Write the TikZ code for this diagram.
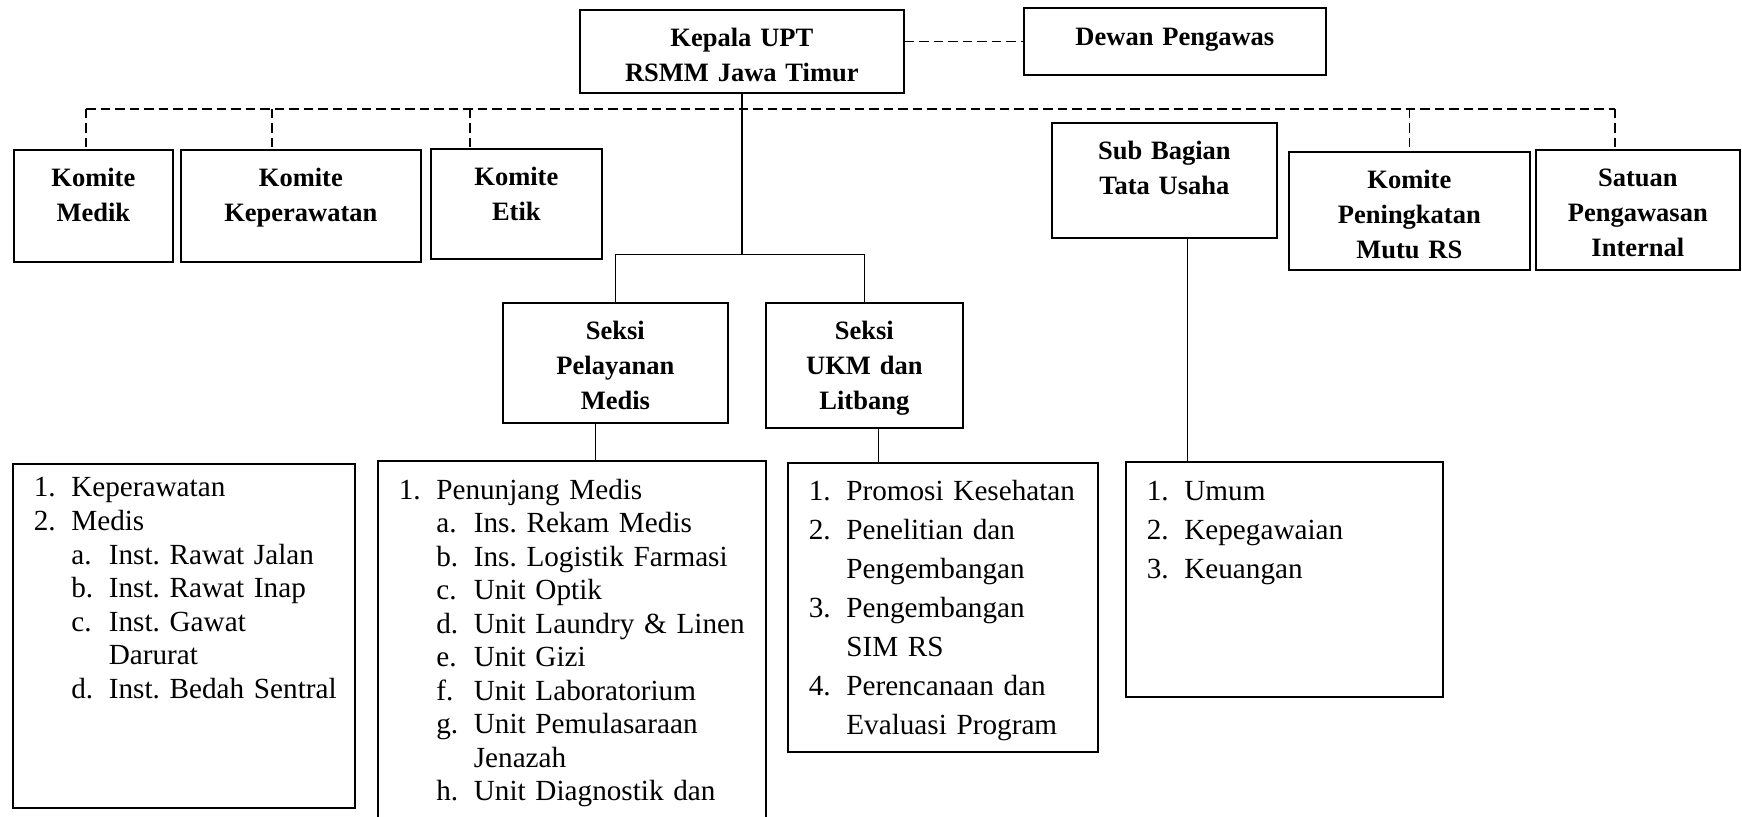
\documentclass[tikz,border=0pt]{standalone}
\usepackage{fontspec}
\setmainfont{Liberation Serif}
\usepackage{tikz}
\frenchspacing
\newcommand{\lvlone}[2]{\makebox[18.75pt][l]{#1}\mbox{#2}}
\newcommand{\lvltwo}[2]{\hspace*{18.75pt}\makebox[18.75pt][l]{#1}\mbox{#2}}
\newcommand{\lvlcont}[2][18.75pt]{\hspace*{#1}\mbox{#2}}

\begin{document}
\begin{tikzpicture}[x=0.5pt,y=-0.5pt,
  unit/.style={draw,line width=0.85pt,anchor=north west,inner sep=0pt,align=center,
    text height=18.5pt,font=\bfseries\fontsize{13.25}{17.5}\selectfont},
  list/.style={draw,line width=0.85pt,anchor=north west,inner xsep=10.5pt,inner ysep=0pt,
    align=left,font=\fontsize{14.6}{17}\selectfont},
  conn/.style={line width=0.6pt},
  trunk/.style={line width=1.35pt},
  dline/.style={line width=0.65pt,dash pattern=on 4.75pt off 2.5pt}]
\useasboundingbox (0,0) rectangle (1742,817);

\node[unit,text width=162pt,text depth=23pt] (kepala) at (579,9) {Kepala UPT\\RSMM Jawa Timur};
\node[unit,text width=151pt,text height=19pt,text depth=14.5pt] (dewan) at (1023,7) {Dewan Pengawas};

\node[unit,text width=79.5pt,text depth=37.5pt] (medik) at (13,149) {Komite\\Medik};
\node[unit,text width=120pt,text depth=37.5pt] (komkep) at (180,149) {Komite\\Keperawatan};
\node[unit,text width=85.5pt,text depth=36.5pt] (etik) at (430,148) {Komite\\Etik};
\node[unit,text width=112.5pt,text depth=39pt] (tatausaha) at (1051,122) {Sub Bagian\\Tata Usaha};
\node[unit,text width=120.5pt,text depth=40.5pt] (mutu) at (1288,151) {Komite\\Peningkatan\\Mutu RS};
\node[unit,text width=102pt,text depth=41.5pt] (spi) at (1535,149) {Satuan\\Pengawasan\\Internal};

\node[unit,text width=112.5pt,text depth=41.5pt] (pelayanan) at (502,302) {Seksi\\Pelayanan\\Medis};
\node[unit,text width=98.5pt,text depth=44pt] (ukm) at (765,302) {Seksi\\UKM dan\\Litbang};

\node[list,font=\fontsize{14.6}{16.8}\selectfont,text width=150pt,text height=16.5pt,text depth=155.5pt] (listkep) at (12,463) {%
\lvlone{1.}{Keperawatan}\\
\lvlone{2.}{Medis}\\
\lvltwo{a.}{Inst. Rawat Jalan}\\
\lvltwo{b.}{Inst. Rawat Inap}\\
\lvltwo{c.}{Inst. Gawat}\\
\lvlcont[37.5pt]{Darurat}\\
\lvltwo{d.}{Inst. Bedah Sentral}};
\node[list,font=\fontsize{14.6}{16.75}\selectfont,text width=173pt,text height=19.25pt,text depth=175pt] (listpm) at (377,460) {%
\lvlone{1.}{Penunjang Medis}\\
\lvltwo{a.}{Ins. Rekam Medis}\\
\lvltwo{b.}{Ins. Logistik Farmasi}\\
\lvltwo{c.}{Unit Optik}\\
\lvltwo{d.}{Unit Laundry \& Linen}\\
\lvltwo{e.}{Unit Gizi}\\
\lvltwo{f.}{Unit Laboratorium}\\
\lvltwo{g.}{Unit Pemulasaraan}\\
\lvlcont[37.5pt]{Jenazah}\\
\lvltwo{h.}{Unit Diagnostik dan}};
\node[list,font=\fontsize{14.6}{19.5}\selectfont,text width=134pt,text height=19pt,text depth=125.75pt] (listukm) at (787,462) {%
\lvlone{1.}{Promosi Kesehatan}\\
\lvlone{2.}{Penelitian dan}\\
\lvlcont{Pengembangan}\\
\lvlone{3.}{Pengembangan}\\
\lvlcont{SIM RS}\\
\lvlone{4.}{Perencanaan dan}\\
\lvlcont{Evaluasi Program}};
\node[list,font=\fontsize{14.6}{19.5}\selectfont,text width=137.5pt,text height=19.5pt,text depth=98pt] (listtu) at (1125,461) {%
\lvlone{1.}{Umum}\\
\lvlone{2.}{Kepegawaian}\\
\lvlone{3.}{Keuangan}};

\draw[dline] (dewan.west -| kepala.east) -- (dewan.west);

\coordinate (busL) at (86,109);
\coordinate (busR) at (1615,109);
\draw[dline] (busL) -- (busR);
\draw[dline] (busL) -- (busL |- medik.north);
\draw[dline] ([xshift=-14.5pt]komkep.north |- busL) -- ([xshift=-14.5pt]komkep.north);
\draw[dline] ([xshift=-23.25pt]etik.north |- busL) -- ([xshift=-23.25pt]etik.north);
\draw[dline] (mutu.north |- busL) -- (mutu.north);
\draw[dline] (busR) -- (busR |- spi.north);

\path (kepala.south) ++(0,161) coordinate (fork);
\draw[trunk] (kepala.south) -- (fork);
\draw[conn] (pelayanan.north) |- (fork) -| (ukm.north);

\draw[conn] ([xshift=-9.75pt]pelayanan.south) -- ([xshift=-9.75pt]pelayanan.south |- listpm.north);
\draw[conn] ([xshift=7.25pt]ukm.south) -- ([xshift=7.25pt]ukm.south |- listukm.north);
\draw[conn] ([xshift=11.75pt]tatausaha.south) -- ([xshift=11.75pt]tatausaha.south |- listtu.north);
\end{tikzpicture}
\end{document}
